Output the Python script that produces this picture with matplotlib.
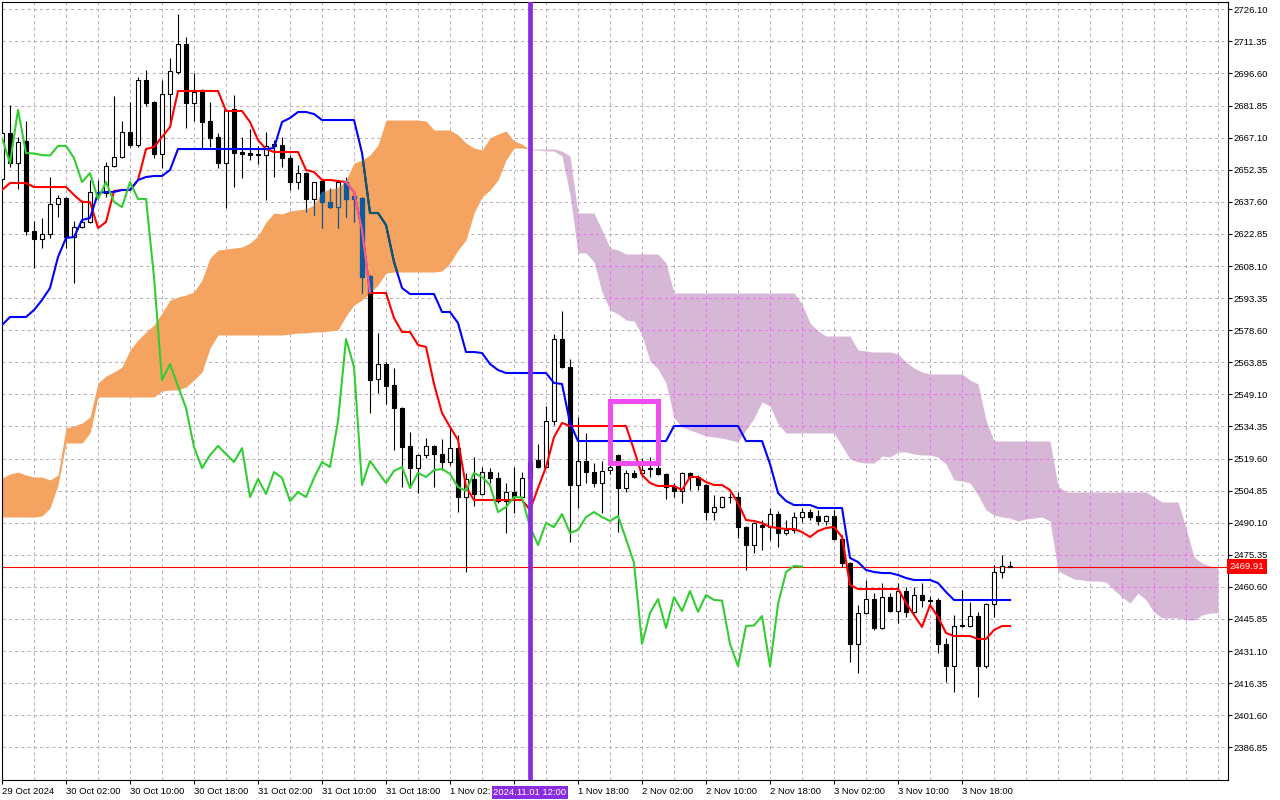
import numpy as np
import matplotlib
matplotlib.use("Agg")
from matplotlib import pyplot as plt
from matplotlib import transforms
from matplotlib.collections import LineCollection
from matplotlib.patches import Rectangle
from matplotlib.path import Path

plt.rcParams['font.family'] = ['Liberation Sans', 'DejaVu Sans']

# ETHUSD H1 candles, first bar 29 Oct 2024 18:00, last bar 4 Nov 00:00
opens = [2648.1, 2669.2, 2655.4, 2665.6, 2624.2, 2620.5, 2622.8, 2636.6, 2639.4, 2621.4,
         2626.0, 2628.3, 2642.1, 2641.7, 2654.1, 2658.2, 2669.7, 2663.7, 2693.6, 2683.5,
         2659.6, 2687.2, 2697.3, 2710.1, 2683.0, 2689.0, 2674.8, 2667.4, 2655.4, 2680.3,
         2660.3, 2660.0, 2659.6, 2659.1, 2664.2, 2663.7, 2657.7, 2646.7, 2650.8, 2638.9,
         2647.2, 2637.5, 2635.2, 2646.7, 2640.3, 2639.4, 2603.5, 2556.2, 2563.0, 2553.4,
         2542.8, 2525.4, 2515.2, 2521.2, 2525.4, 2521.7, 2518.0, 2524.4, 2501.9, 2510.2,
         2503.3, 2513.4, 2510.7, 2500.1, 2504.2, 2501.9, 2510.7, 2518.9, 2515.7, 2536.9,
         2574.5, 2561.7, 2507.4, 2518.5, 2513.4, 2508.4, 2514.3, 2521.2, 2506.1, 2513.0,
         2513.0, 2515.2, 2515.2, 2512.5, 2506.5, 2504.7, 2513.0, 2511.1, 2507.4, 2495.0,
         2497.3, 2501.9, 2501.9, 2488.1, 2479.9, 2489.0, 2488.1, 2494.1, 2485.4, 2486.8,
         2492.7, 2495.0, 2493.2, 2490.9, 2493.2, 2482.6, 2471.6, 2434.4, 2448.6, 2455.0,
         2441.7, 2455.9, 2449.5, 2458.7, 2449.1, 2456.9, 2454.6, 2454.6, 2434.4, 2424.2,
         2442.4, 2442.6, 2447.2, 2424.2, 2452.7, 2467.4, 2470.2]
highs = [2671.5, 2682.1, 2667.4, 2674.8, 2628.8, 2630.2, 2649.0, 2640.7, 2639.8, 2628.8,
         2638.4, 2647.6, 2647.6, 2655.9, 2686.2, 2674.8, 2683.5, 2695.0, 2698.2, 2683.9,
         2693.6, 2703.7, 2723.9, 2713.4, 2696.8, 2689.5, 2683.5, 2669.2, 2680.3, 2686.7,
         2667.4, 2671.1, 2663.3, 2669.7, 2666.0, 2667.4, 2659.1, 2654.5, 2651.3, 2646.7,
         2647.6, 2643.9, 2647.2, 2649.0, 2640.7, 2639.8, 2603.9, 2577.3, 2563.9, 2561.2,
         2543.3, 2531.8, 2521.6, 2529.0, 2525.8, 2528.6, 2533.6, 2530.4, 2512.9, 2520.3,
         2515.7, 2515.2, 2513.4, 2508.4, 2515.7, 2513.4, 2521.2, 2526.3, 2543.7, 2576.8,
         2587.4, 2565.4, 2538.7, 2531.3, 2517.6, 2518.5, 2518.0, 2521.7, 2514.3, 2514.3,
         2519.8, 2520.3, 2517.6, 2513.0, 2508.4, 2513.4, 2513.4, 2512.0, 2507.9, 2502.8,
         2502.4, 2503.8, 2504.2, 2488.6, 2490.4, 2491.4, 2496.9, 2495.5, 2491.4, 2495.0,
         2496.9, 2496.4, 2495.9, 2493.6, 2495.9, 2484.5, 2472.0, 2452.3, 2463.8, 2457.8,
         2462.4, 2457.8, 2462.4, 2460.5, 2460.5, 2462.4, 2456.4, 2455.5, 2437.1, 2447.7,
         2459.2, 2453.7, 2449.1, 2453.2, 2470.7, 2475.3, 2472.5]
lows = [2646.7, 2653.6, 2643.5, 2622.4, 2607.2, 2616.4, 2621.0, 2630.6, 2616.4, 2600.3,
        2625.6, 2627.9, 2638.4, 2639.8, 2653.6, 2657.7, 2662.8, 2662.8, 2681.6, 2657.7,
        2653.1, 2673.8, 2696.4, 2671.5, 2674.8, 2662.4, 2662.8, 2653.1, 2634.8, 2644.4,
        2648.6, 2656.8, 2655.0, 2638.4, 2649.0, 2653.6, 2643.0, 2643.5, 2632.9, 2631.5,
        2625.6, 2634.8, 2625.6, 2630.6, 2628.3, 2595.7, 2540.5, 2549.7, 2544.7, 2523.5,
        2506.5, 2506.1, 2503.8, 2519.8, 2506.5, 2514.3, 2516.6, 2495.0, 2467.5, 2497.8,
        2502.8, 2508.4, 2499.2, 2485.4, 2494.6, 2501.5, 2500.5, 2515.2, 2515.2, 2535.0,
        2561.2, 2481.2, 2496.9, 2508.4, 2506.5, 2494.6, 2512.5, 2485.8, 2504.2, 2510.7,
        2511.1, 2511.1, 2512.0, 2501.0, 2501.9, 2499.2, 2505.1, 2505.1, 2491.4, 2491.4,
        2496.9, 2499.2, 2483.1, 2468.4, 2476.2, 2477.6, 2482.2, 2478.9, 2484.5, 2485.4,
        2490.4, 2491.4, 2489.0, 2489.0, 2482.2, 2469.7, 2426.1, 2421.0, 2448.1, 2440.8,
        2441.3, 2449.1, 2444.0, 2446.8, 2448.6, 2451.4, 2451.4, 2430.2, 2416.9, 2412.3,
        2442.2, 2442.2, 2410.0, 2423.3, 2446.8, 2464.7, 2469.7]
closes = [2669.2, 2655.4, 2665.1, 2624.2, 2620.5, 2622.8, 2636.6, 2639.4, 2621.4, 2626.0,
          2628.3, 2642.1, 2641.2, 2654.1, 2658.2, 2669.7, 2663.7, 2693.6, 2683.0, 2659.6,
          2687.2, 2697.7, 2710.1, 2683.0, 2688.1, 2674.3, 2666.9, 2655.4, 2679.8, 2660.0,
          2659.8, 2659.1, 2658.9, 2663.3, 2663.3, 2657.7, 2646.7, 2650.8, 2638.9, 2646.7,
          2637.5, 2635.2, 2646.7, 2638.9, 2638.9, 2603.0, 2555.7, 2563.0, 2552.9, 2542.8,
          2524.9, 2515.2, 2521.2, 2525.4, 2521.7, 2518.0, 2524.4, 2501.9, 2510.2, 2503.3,
          2513.4, 2510.7, 2500.1, 2504.2, 2501.9, 2510.7, 2518.0, 2515.7, 2536.9, 2574.5,
          2561.7, 2507.4, 2518.5, 2513.4, 2508.4, 2513.9, 2515.7, 2506.1, 2513.0, 2511.1,
          2514.3, 2514.8, 2512.5, 2506.5, 2504.7, 2513.0, 2511.1, 2507.4, 2495.0, 2497.3,
          2501.9, 2501.7, 2488.1, 2479.9, 2490.0, 2488.1, 2494.1, 2485.4, 2486.8, 2492.7,
          2495.0, 2492.7, 2490.9, 2493.2, 2482.6, 2471.6, 2434.4, 2448.6, 2455.0, 2441.7,
          2455.9, 2449.5, 2458.7, 2449.1, 2456.9, 2454.6, 2454.3, 2434.4, 2424.2, 2442.6,
          2442.9, 2447.2, 2424.2, 2452.7, 2467.4, 2470.2, 2469.91]

# Ichimoku lines
tenkan = [2643.04, 2646.25, 2646.25, 2646.25, 2644.41, 2644.41, 2644.41, 2644.41, 2644.41, 2640.74,
          2637.52, 2637.52, 2625.57, 2628.33, 2642.58, 2643.04, 2643.04, 2647.63, 2661.88, 2662.80,
          2667.40, 2671.99, 2688.54, 2688.54, 2688.54, 2688.54, 2688.54, 2688.54, 2679.35, 2679.35,
          2679.35, 2674.29, 2666.02, 2661.88, 2660.50, 2660.50, 2660.50, 2660.50, 2652.23, 2651.31,
          2647.63, 2647.63, 2647.17, 2646.71, 2642.12, 2624.65, 2595.69, 2595.69, 2595.69, 2584.19,
          2577.77, 2577.77, 2571.80, 2570.87, 2553.87, 2540.54, 2534.10, 2528.12, 2506.52, 2500.54,
          2500.54, 2500.54, 2500.54, 2500.54, 2500.54, 2500.54, 2495.95, 2506.06, 2515.71, 2529.50,
          2535.94, 2534.56, 2534.56, 2534.56, 2534.56, 2534.56, 2534.56, 2534.56, 2534.56, 2523.53,
          2512.04, 2508.36, 2506.98, 2506.98, 2506.98, 2505.14, 2511.12, 2511.12, 2508.82, 2507.44,
          2507.44, 2505.14, 2499.16, 2491.35, 2490.89, 2489.97, 2488.13, 2487.67, 2487.21, 2487.21,
          2485.83, 2483.54, 2486.29, 2487.67, 2488.13, 2483.54, 2461.47, 2459.63, 2459.63, 2459.63,
          2459.63, 2459.63, 2459.63, 2453.20, 2447.68, 2442.17, 2452.28, 2446.76, 2439.41, 2438.03,
          2438.03, 2438.03, 2436.65, 2436.65, 2440.79, 2442.63, 2442.63]
kijun = [2580.98, 2584.66, 2584.66, 2584.66, 2587.88, 2592.48, 2597.99, 2612.24, 2620.97, 2621.43,
         2629.25, 2630.17, 2641.66, 2642.12, 2642.12, 2643.04, 2643.04, 2647.63, 2649.01, 2649.47,
         2649.47, 2652.23, 2661.88, 2661.88, 2661.88, 2661.88, 2661.88, 2661.88, 2661.88, 2661.88,
         2661.88, 2661.88, 2661.88, 2661.88, 2662.34, 2674.29, 2676.13, 2678.89, 2678.89, 2677.97,
         2675.21, 2675.21, 2675.21, 2675.21, 2675.21, 2660.05, 2632.46, 2632.46, 2626.94, 2609.94,
         2597.99, 2595.23, 2595.23, 2595.23, 2595.23, 2586.96, 2586.96, 2581.90, 2568.57, 2568.57,
         2568.11, 2563.06, 2560.30, 2558.92, 2558.92, 2558.92, 2558.92, 2558.92, 2558.92, 2554.33,
         2553.87, 2535.94, 2527.66, 2527.66, 2527.66, 2527.66, 2527.66, 2527.66, 2527.66, 2527.66,
         2527.66, 2527.66, 2527.66, 2527.66, 2534.56, 2534.56, 2534.56, 2534.56, 2534.56, 2534.56,
         2534.56, 2534.56, 2534.56, 2527.66, 2527.66, 2527.66, 2517.09, 2503.76, 2500.08, 2498.24,
         2498.24, 2498.24, 2496.87, 2496.87, 2496.87, 2496.87, 2473.88, 2472.04, 2468.37, 2467.45,
         2466.99, 2466.99, 2466.07, 2464.69, 2463.77, 2463.77, 2463.77, 2462.39, 2458.25, 2454.58,
         2454.58, 2454.58, 2454.58, 2454.58, 2454.58, 2454.58, 2454.58]
# cloud, already shifted 26 bars forward (153 bars)
senkou_a = [2510.65, 2512.49, 2513.41, 2512.03, 2511.11, 2511.11, 2509.74, 2512.03, 2533.64, 2534.56,
            2535.94, 2538.69, 2554.32, 2557.54, 2559.38, 2561.68, 2569.49, 2574.09, 2577.77, 2580.98,
            2586.50, 2592.48, 2593.85, 2594.77, 2596.15, 2601.67, 2611.78, 2615.46, 2615.91, 2616.37,
            2616.83, 2618.67, 2621.89, 2628.33, 2632.46, 2632.00, 2633.38, 2633.84, 2634.30, 2636.14,
            2642.12, 2643.49, 2643.95, 2647.63, 2655.45, 2656.83, 2659.12, 2663.72, 2675.21, 2675.21,
            2675.21, 2675.21, 2675.21, 2674.75, 2670.62, 2670.62, 2670.62, 2668.32, 2664.64, 2662.34,
            2661.42, 2666.94, 2668.78, 2670.16, 2665.56, 2664.18, 2661.42, 2661.42, 2660.96, 2660.96,
            2658.66, 2640.74, 2614.08, 2614.08, 2609.94, 2596.15, 2587.88, 2586.04, 2583.28, 2582.82,
            2576.39, 2564.44, 2560.76, 2554.32, 2538.23, 2534.10, 2532.72, 2531.34, 2529.96, 2529.50,
            2529.04, 2528.12, 2527.20, 2532.72, 2538.23, 2545.59, 2543.75, 2535.48, 2531.34, 2531.34,
            2531.34, 2531.34, 2531.34, 2531.34, 2531.34, 2525.36, 2519.39, 2518.01, 2517.55, 2517.55,
            2520.77, 2520.31, 2522.61, 2522.61, 2521.69, 2521.23, 2521.23, 2520.31, 2517.09, 2509.74,
            2509.28, 2508.36, 2502.84, 2495.95, 2493.65, 2492.73, 2492.27, 2490.89, 2491.81, 2492.27,
            2492.73, 2490.89, 2467.91, 2466.07, 2464.23, 2463.77, 2463.31, 2463.31, 2462.85, 2459.17,
            2455.95, 2453.20, 2457.79, 2454.58, 2449.06, 2446.30, 2446.30, 2446.30, 2445.38, 2445.38,
            2447.68, 2448.60, 2448.60]
senkou_b = [2492.73, 2492.73, 2492.73, 2492.73, 2492.73, 2493.19, 2496.86, 2507.44, 2526.74, 2526.74,
            2526.74, 2531.34, 2547.89, 2547.89, 2547.89, 2547.89, 2547.89, 2547.89, 2547.89, 2547.89,
            2550.65, 2551.11, 2551.11, 2552.48, 2555.70, 2559.38, 2570.41, 2576.39, 2576.39, 2576.39,
            2576.39, 2576.39, 2576.39, 2576.39, 2576.39, 2576.39, 2576.85, 2577.31, 2577.31, 2577.77,
            2577.77, 2578.23, 2578.69, 2585.12, 2590.18, 2592.48, 2595.69, 2599.37, 2604.88, 2605.34,
            2605.34, 2605.34, 2605.34, 2605.34, 2605.34, 2605.80, 2609.48, 2615.46, 2620.05, 2632.46,
            2639.82, 2643.04, 2647.63, 2656.83, 2662.34, 2662.34, 2661.88, 2661.88, 2661.88, 2661.88,
            2660.96, 2658.66, 2632.46, 2632.46, 2632.46, 2624.65, 2616.37, 2615.46, 2613.62, 2613.62,
            2613.62, 2613.62, 2613.62, 2609.48, 2595.69, 2595.69, 2595.69, 2595.69, 2595.69, 2595.69,
            2595.69, 2595.69, 2595.69, 2595.69, 2595.69, 2595.69, 2595.69, 2595.69, 2595.69, 2595.69,
            2590.64, 2581.90, 2578.23, 2575.93, 2575.93, 2575.93, 2575.93, 2569.49, 2569.03, 2568.57,
            2568.57, 2568.57, 2567.65, 2563.98, 2561.22, 2559.38, 2558.46, 2558.46, 2558.46, 2558.46,
            2558.46, 2555.70, 2553.86, 2537.32, 2527.66, 2527.66, 2527.66, 2527.66, 2527.66, 2527.66,
            2527.66, 2527.66, 2506.98, 2504.22, 2504.22, 2504.22, 2504.22, 2504.22, 2504.22, 2504.22,
            2504.22, 2504.22, 2504.22, 2504.22, 2501.92, 2499.62, 2499.62, 2499.62, 2487.67, 2474.34,
            2471.58, 2470.20, 2469.28]
shift = 26  # chikou is the close drawn 26 bars back

price_ticks = [2386.85, 2401.60, 2416.35, 2431.10, 2445.85, 2460.60, 2475.35, 2490.10,
               2504.85, 2519.60, 2534.35, 2549.10, 2563.85, 2578.60, 2593.35, 2608.10,
               2622.85, 2637.60, 2652.35, 2667.10, 2681.85, 2696.60, 2711.35, 2726.10]
time_ticks = [0, 8, 16, 24, 32, 40, 48, 56, 64, 72, 80, 88, 96, 104, 112, 120]
# '1 Nov 02:00' is cut and '1 Nov 10:00' hidden by the cursor date box
time_labels = ['29 Oct 2024', '30 Oct 02:00', '30 Oct 10:00', '30 Oct 18:00',
               '31 Oct 02:00', '31 Oct 10:00', '31 Oct 18:00', '1 Nov 02:',
               '', '1 Nov 18:00', '2 Nov 02:00', '2 Nov 10:00',
               '2 Nov 18:00', '3 Nov 02:00', '3 Nov 10:00', '3 Nov 18:00']
last_price = 2469.91
cursor_bar = 66
cursor_text = '2024.11.01 12:00'
box_bars = (76.0, 81.95)
box_prices = (2517.5, 2546.0)

BULL = '#f4a460'
BEAR = '#d6b8d6'
GRID = '#bcaebc'

fig = plt.figure(figsize=(12.8, 8), dpi=100)
ax = fig.add_axes([1.7 / 1280, 20 / 800, 1226 / 1280, 778.3 / 800])
x0, x1 = -0.04, 153.21
y0, y1 = 2371.84, 2729.59
ax.set_xlim(x0, x1)
ax.set_ylim(y0, y1)

bars = np.arange(len(closes))
ahead = np.arange(len(senkou_a))
sa = np.array(senkou_a)
sb = np.array(senkou_b)

# dashed grid
grid_segs = [[(v, y0), (v, y1)] for v in range(4, 153, 4)]
grid_segs += [[(x0, p), (x1, p)] for p in price_ticks]
ax.add_collection(LineCollection(grid_segs, colors=GRID, linewidths=0.75,
                                 linestyles=(0, (3, 3)), zorder=0.5))

# cloud
bull = ax.fill_between(ahead, sa, sb, where=sa >= sb, interpolate=True,
                       color=BULL, lw=0, zorder=1)
bear = ax.fill_between(ahead, sa, sb, where=sa < sb, interpolate=True,
                       color=BEAR, lw=0, zorder=1)
bull_path = Path.make_compound_path(*bull.get_paths())
bear_path = Path.make_compound_path(*bear.get_paths())

pink_grid = LineCollection(grid_segs, colors='#ee70ee', linewidths=0.75,
                           linestyles=(0, (3, 3)), zorder=1.1)
ax.add_collection(pink_grid)
pink_grid.set_clip_path(bear_path, ax.transData)

ax.axhline(last_price, color='#ff0000', lw=0.8, zorder=2)


def draw_candles(col, hollow_face, z, clip=None):
    wicks = []
    arts = []
    for i in bars:
        o, h, l, c = opens[i], highs[i], lows[i], closes[i]
        top, bot = max(o, c), min(o, c)
        wicks.append([(i, top), (i, h)])
        wicks.append([(i, l), (i, bot)])
        body = Rectangle((i - 0.3, bot), 0.6, top - bot,
                         facecolor=col if c < o else hollow_face,
                         edgecolor=col, linewidth=0.8, zorder=z)
        ax.add_patch(body)
        arts.append(body)
    wc = LineCollection(wicks, colors=col, linewidths=0.8, zorder=z)
    ax.add_collection(wc)
    arts.append(wc)
    if clip is not None:
        for a in arts:
            a.set_clip_path(clip, ax.transData)


draw_candles('black', 'white', 3)
ax.plot(bars, tenkan, color='#ff0000', lw=1.5, zorder=3.5)
ax.plot(bars, kijun, color='#0000ff', lw=1.5, zorder=3.5)

# inside the orange cloud the terminal inverts colours
draw_candles('#0b5b9f', BULL, 3.6, clip=bull_path)
t2, = ax.plot(bars, tenkan, color='#f45b9f', lw=1.5, zorder=3.7)
k2, = ax.plot(bars, kijun, color='#0b5b60', lw=1.5, zorder=3.7)
t2.set_clip_path(bull_path, ax.transData)
k2.set_clip_path(bull_path, ax.transData)

ax.plot(bars[:len(closes) - shift], closes[shift:], color='#32cd32', lw=1.5, zorder=4)

ax.axvline(cursor_bar, color='#8a2be2', lw=3.4, zorder=5)
ax.add_patch(Rectangle((box_bars[0], box_prices[0]), box_bars[1] - box_bars[0],
                       box_prices[1] - box_prices[0], fill=False,
                       edgecolor='#f04cf0', lw=3.6, joinstyle='miter', zorder=6))

# axes styling
for s in ax.spines.values():
    s.set_color('black')
    s.set_linewidth(0.8)
ax.yaxis.tick_right()
ax.set_yticks(price_ticks)
ax.set_yticklabels([f'{p:.2f}' for p in price_ticks])
ax.tick_params(axis='y', length=3, width=0.8, pad=1, labelsize=6.8)
ax.set_xticks(time_ticks)
ax.set_xticklabels(time_labels, ha='left')
ax.tick_params(axis='x', length=3, width=0.8, pad=2, labelsize=6.8)

ty = transforms.blended_transform_factory(ax.transAxes, ax.transData)
ax.text(1.0015, last_price, f'{last_price:.2f}', transform=ty, ha='left', va='center',
        fontsize=6.8, color='white', zorder=10, clip_on=False,
        bbox=dict(boxstyle='square,pad=0.3', fc='#ff0000', ec='none'))
tx = transforms.blended_transform_factory(ax.transData, ax.transAxes)
ax.text(cursor_bar, -0.0165, cursor_text, transform=tx, ha='center', va='center',
        fontsize=6.8, color='white', zorder=10, clip_on=False,
        bbox=dict(boxstyle='square,pad=0.2', fc='#8a2be2', ec='none'))

fig.savefig('out.png', dpi=100, facecolor='white')
